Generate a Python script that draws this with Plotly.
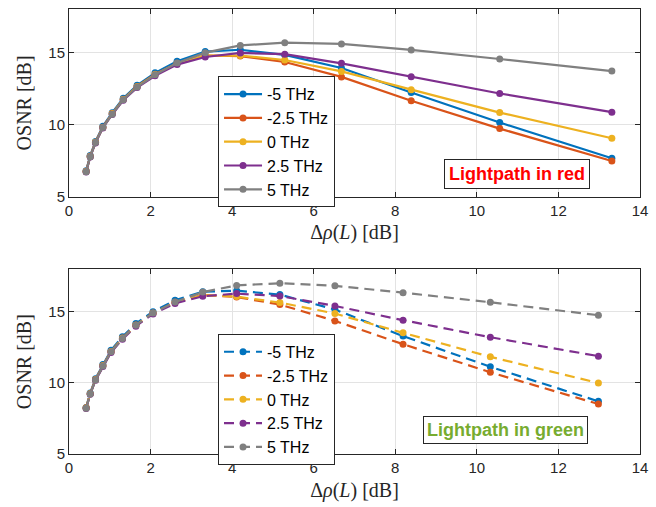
import plotly.graph_objects as go

# Link power excursion values (dB) for each lightpath
x_red = [0.42, 0.52, 0.65, 0.83, 1.06, 1.33, 1.67, 2.11, 2.65, 3.34, 4.20, 5.29, 6.68, 8.39, 10.56, 13.31]
x_green = [0.42, 0.52, 0.65, 0.83, 1.03, 1.31, 1.64, 2.06, 2.60, 3.28, 4.11, 5.17, 6.52, 8.19, 10.33, 12.98]

series_names = ["-5 THz", "-2.5 THz", "0 THz", "2.5 THz", "5 THz"]
series_colors = ["#0072BD", "#D95319", "#EDB120", "#7E2F8E", "#808080"]

# OSNR (dB), lightpath in red
osnr_red_m5 = [6.80, 7.85, 8.83, 9.88, 10.82, 11.82, 12.72, 13.58, 14.38, 15.05, 15.18, 14.82, 13.92, 12.22, 10.14, 7.67]
osnr_red_m25 = [6.76, 7.80, 8.78, 9.82, 10.76, 11.75, 12.64, 13.48, 14.25, 14.78, 14.74, 14.33, 13.30, 11.65, 9.72, 7.48]
osnr_red_0 = [6.75, 7.79, 8.77, 9.80, 10.74, 11.73, 12.62, 13.46, 14.22, 14.77, 14.78, 14.47, 13.68, 12.41, 10.83, 9.05]
osnr_red_p25 = [6.72, 7.76, 8.73, 9.77, 10.70, 11.68, 12.56, 13.38, 14.15, 14.68, 14.96, 14.87, 14.24, 13.31, 12.15, 10.86]
osnr_red_p5 = [6.74, 7.78, 8.75, 9.79, 10.72, 11.72, 12.60, 13.45, 14.26, 14.98, 15.48, 15.67, 15.58, 15.17, 14.54, 13.70]

# OSNR (dB), lightpath in green
osnr_green_m5 = [8.28, 9.30, 10.30, 11.30, 12.30, 13.25, 14.18, 15.02, 15.82, 16.42, 16.50, 16.22, 15.17, 13.30, 11.14, 8.71]
osnr_green_m25 = [8.25, 9.25, 10.25, 11.23, 12.22, 13.16, 14.08, 14.93, 15.68, 16.20, 16.05, 15.52, 14.37, 12.73, 10.75, 8.52]
osnr_green_0 = [8.24, 9.24, 10.23, 11.21, 12.20, 13.14, 14.06, 14.91, 15.66, 16.18, 16.08, 15.66, 14.89, 13.53, 11.84, 10.00]
osnr_green_p25 = [8.20, 9.20, 10.19, 11.16, 12.15, 13.08, 14.00, 14.86, 15.60, 16.10, 16.29, 16.12, 15.42, 14.42, 13.22, 11.89]
osnr_green_p5 = [8.22, 9.22, 10.21, 11.19, 12.19, 13.13, 14.07, 14.93, 15.70, 16.40, 16.87, 17.02, 16.84, 16.36, 15.68, 14.77]

x_ticks = [0, 2, 4, 6, 8, 10, 12, 14]
y_ticks = [5, 10, 15]

red_series = [osnr_red_m5, osnr_red_m25, osnr_red_0, osnr_red_p25, osnr_red_p5]
green_series = [osnr_green_m5, osnr_green_m25, osnr_green_0, osnr_green_p25, osnr_green_p5]

fig = go.Figure()

for name, color, y in zip(series_names, series_colors, red_series):
    fig.add_trace(go.Scatter(
        x=x_red, y=y, name=name, mode="lines+markers",
        line=dict(color=color, width=2.2),
        marker=dict(color=color, size=7),
        xaxis="x", yaxis="y", legend="legend",
    ))

for name, color, y in zip(series_names, series_colors, green_series):
    fig.add_trace(go.Scatter(
        x=x_green, y=y, name=name, mode="lines+markers",
        line=dict(color=color, width=2.2, dash="10px,6px"),
        marker=dict(color=color, size=7),
        xaxis="x2", yaxis="y2", legend="legend2",
    ))

tick_font = dict(family="Liberation Sans, Arial, sans-serif", size=15, color="#262626")
title_font = dict(family="Liberation Serif, Times New Roman, serif", size=20, color="#262626")
legend_font = dict(family="Liberation Sans, Arial, sans-serif", size=16, color="black")
note_font = dict(family="Liberation Sans, Arial, sans-serif", size=18)

axis_common = dict(
    showline=True, linecolor="#262626", linewidth=1, mirror="ticks",
    ticks="inside", ticklen=5, tickcolor="#262626", tickwidth=1,
    showgrid=True, gridcolor="#e3e3e3", gridwidth=1, zeroline=False,
    tickfont=tick_font,
)

x_title = "Δ<i>ρ</i>(<i>L</i>) [dB]"

fig.update_layout(
    width=656, height=507,
    margin=dict(l=69, r=16, t=9, b=53),
    paper_bgcolor="white", plot_bgcolor="white",
    xaxis=dict(domain=[0, 1], anchor="y", range=[0, 14], tickvals=x_ticks,
               title=dict(text=x_title, font=title_font, standoff=7), **axis_common),
    yaxis=dict(domain=[0.578, 1], anchor="x", range=[5, 18], tickvals=y_ticks,
               title=dict(text="OSNR [dB]", font=title_font, standoff=11), **axis_common),
    xaxis2=dict(domain=[0, 1], anchor="y2", range=[0, 14], tickvals=x_ticks,
                title=dict(text=x_title, font=title_font, standoff=7), **axis_common),
    yaxis2=dict(domain=[0, 0.415], anchor="x2", range=[5, 18], tickvals=y_ticks,
                title=dict(text="OSNR [dB]", font=title_font, standoff=11), **axis_common),
    legend=dict(x=0.261, y=0.849, xanchor="left", yanchor="top", itemwidth=38,
                bgcolor="white", bordercolor="#262626", borderwidth=1, font=legend_font),
    legend2=dict(x=0.261, y=0.270, xanchor="left", yanchor="top", itemwidth=38,
                 bgcolor="white", bordercolor="#262626", borderwidth=1, font=legend_font),
    annotations=[
        dict(text="<b>Lightpath in red</b>", xref="x domain", yref="y domain",
             x=0.785, y=0.123, xanchor="center", yanchor="middle", showarrow=False,
             font=dict(note_font, color="#FF0000"),
             bgcolor="white", bordercolor="#262626", borderwidth=1, borderpad=4),
        dict(text="<b>Lightpath in green</b>", xref="x2 domain", yref="y2 domain",
             x=0.765, y=0.128, xanchor="center", yanchor="middle", showarrow=False,
             font=dict(note_font, color="#77AC30"),
             bgcolor="white", bordercolor="#262626", borderwidth=1, borderpad=3),
    ],
    showlegend=True,
)

fig.write_html("out.html")
